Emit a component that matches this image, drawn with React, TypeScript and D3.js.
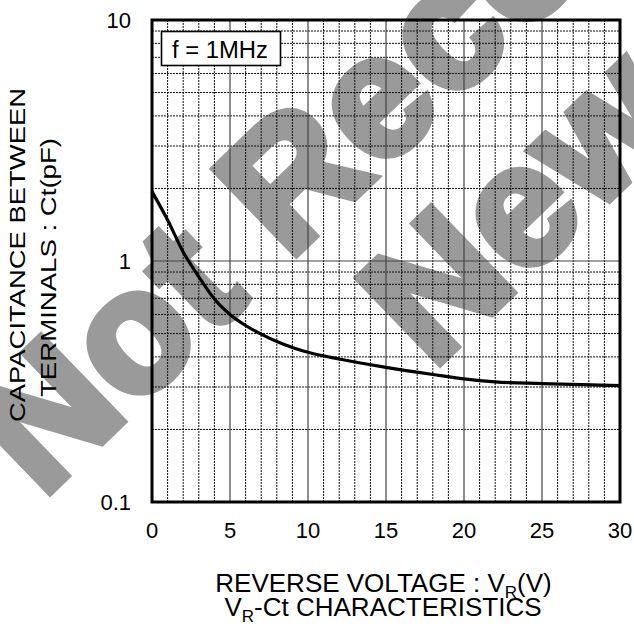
import React from "react";
import * as d3 from "d3";

const voltage = [0, 1, 2, 3, 4, 5, 6, 7, 8, 9, 10, 12, 15, 18, 20, 22, 25, 30];
const capacitance = [1.94, 1.48, 1.09, 0.86, 0.695, 0.6, 0.54, 0.497, 0.463, 0.438, 0.418, 0.392, 0.362, 0.338, 0.324, 0.315, 0.31, 0.304];
const xTicks = [0, 5, 10, 15, 20, 25, 30];
const yTicks = [0.1, 1, 10];
const yTickLabels = ["0.1", "1", "10"];
const noteText = "f = 1MHz";
const yTitle1 = "CAPACITANCE BETWEEN";
const yTitle2 = "TERMINALS : Ct(pF)";
const watermark1 = "Not Recommended";
const watermark2 = "New Design";

const W = 634;
const H = 627;
const L = 152, R = 620, T = 20, B = 502;
const FONT = "'Liberation Sans', Arial, Helvetica, sans-serif";

export default function App() {
  const x = d3.scaleLinear().domain([0, 30]).range([L, R]);
  const y = d3.scaleLog().domain([0.1, 10]).range([B, T]);

  const minorV = d3.range(1, 30).filter((v) => v % 5 !== 0);
  const majorV = [5, 10, 15, 20, 25];
  const minorH: number[] = [];
  [0.1, 1].forEach((dec) => {
    for (let m = 2; m <= 9; m++) minorH.push(dec * m);
  });
  const majorH = [1];

  const line = d3
    .line<number>()
    .x((_, i) => x(voltage[i]))
    .y((d) => y(d))
    .curve(d3.curveMonotoneX);

  return (
    <svg
      width={W}
      height={H}
      style={{ position: "absolute", left: 0, top: 0, background: "#fff" }}
      fontFamily={FONT}
    >
      <rect x={0} y={0} width={W} height={H} fill="#fff" />
      {/* watermark */}
      <g
        fill="#9a9a9a"
        stroke="#9a9a9a"
        strokeWidth={9}
        strokeLinejoin="miter"
        fontWeight="bold"
        fontSize={170}
        letterSpacing={3}
      >
        <text transform="translate(42,499) rotate(-44)">{watermark1}</text>
        <text transform="translate(432,370) rotate(-44)">{watermark2}</text>
      </g>
      {/* grid */}
      <g>
        {minorV.map((v) => (
          <line key={"mv" + v} x1={x(v)} x2={x(v)} y1={T} y2={B} stroke="#111" strokeWidth={1} strokeDasharray="2,1" />
        ))}
        {minorH.map((v) => (
          <line key={"mh" + v} x1={L} x2={R} y1={y(v)} y2={y(v)} stroke="#111" strokeWidth={1} strokeDasharray="2,1" />
        ))}
        {majorV.map((v) => (
          <line key={"MV" + v} x1={x(v)} x2={x(v)} y1={T} y2={B} stroke="#444" strokeWidth={1.2} />
        ))}
        {majorH.map((v) => (
          <line key={"MH" + v} x1={L} x2={R} y1={y(v)} y2={y(v)} stroke="#444" strokeWidth={1.2} />
        ))}
      </g>
      {/* curve */}
      <path d={line(capacitance) || ""} fill="none" stroke="#000" strokeWidth={3.2} />
      {/* frame */}
      <rect x={L} y={T} width={R - L} height={B - T} fill="none" stroke="#000" strokeWidth={3} />
      {/* note box */}
      <rect x={161.5} y={31.5} width={119} height={34} fill="#fff" stroke="#000" strokeWidth={1.6} />
      <text x={220} y={58} fontSize={23} textAnchor="middle" textLength={96} lengthAdjust="spacingAndGlyphs">
        {noteText}
      </text>
      {/* y tick labels */}
      {yTicks.map((t, i) => (
        <text key={"yt" + t} x={131} y={y(t) + 8} fontSize={22} textAnchor="end">
          {yTickLabels[i]}
        </text>
      ))}
      {/* x tick labels */}
      {xTicks.map((t) => (
        <text key={"xt" + t} x={x(t)} y={538} fontSize={22} textAnchor="middle">
          {t}
        </text>
      ))}
      {/* y title */}
      <text
        transform="translate(25,255) rotate(-90)"
        fontSize={22}
        textAnchor="middle"
        textLength={334}
        lengthAdjust="spacingAndGlyphs"
      >
        {yTitle1}
      </text>
      <text
        transform="translate(56,267.5) rotate(-90)"
        fontSize={22}
        textAnchor="middle"
        textLength={259}
        lengthAdjust="spacingAndGlyphs"
      >
        {yTitle2}
      </text>
      {/* x title */}
      <text x={383.5} y={592} fontSize={26} textAnchor="middle">
        REVERSE VOLTAGE : V
        <tspan fontSize={17} dy={6}>R</tspan>
        <tspan dy={-6}>(V)</tspan>
      </text>
      <text x={383} y={616} fontSize={26} textAnchor="middle">
        V
        <tspan fontSize={17} dy={6}>R</tspan>
        <tspan dy={-6}>-Ct CHARACTERISTICS</tspan>
      </text>
    </svg>
  );
}
